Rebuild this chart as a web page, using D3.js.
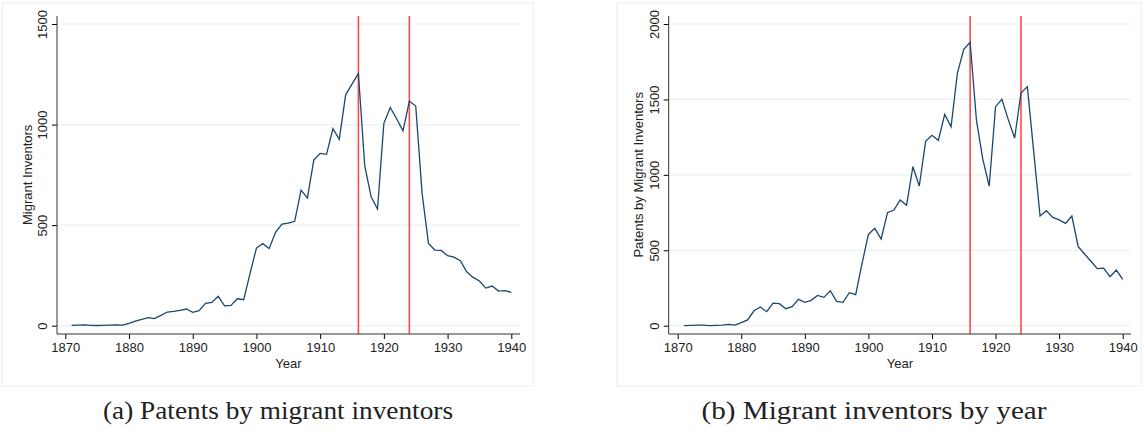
<!DOCTYPE html>
<html>
<head>
<meta charset="utf-8">
<script src="https://cdn.jsdelivr.net/npm/d3@7"></script>
<style>
  body { margin: 0; background: #fff; }
  svg text { font-family: "Liberation Sans", Arial, sans-serif; fill: #222; }
  .cap { font-family: "Liberation Serif", "DejaVu Serif", serif; }
</style>
</head>
<body>
<script>
// years 1871..1940
var years = d3.range(1871, 1941);

// (a) left panel: migrant inventors
var inventors = [2, 3, 4, 2, 1, 2, 3, 4, 3, 12,
  23, 31, 40, 35, 51, 68, 71, 76, 83, 66,
  75, 111, 116, 146, 99, 101, 134, 129, 260, 386,
  408, 384, 464, 505, 510, 519, 674, 635, 823, 857,
  852, 979, 926, 1148, 1201, 1253, 795, 641, 580, 1006,
  1085, 1029, 969, 1117, 1092, 658, 409, 376, 374, 348,
  341, 323, 268, 240, 222, 187, 197, 172, 174, 166];

// (b) right panel: patents by migrant inventors
var patents = [0, 2, 4, 4, 0, 2, 4, 9, 4, 20,
  38, 99, 124, 93, 150, 146, 113, 126, 175, 155,
  168, 201, 188, 232, 161, 155, 219, 206, 413, 605,
  645, 575, 749, 767, 833, 798, 1054, 926, 1222, 1262,
  1229, 1401, 1319, 1675, 1832, 1878, 1359, 1103, 926, 1452,
  1501, 1366, 1244, 1543, 1585, 1154, 727, 762, 718, 701,
  678, 727, 524, 475, 427, 378, 382, 325, 369, 307];

var xTicks = [1870, 1880, 1890, 1900, 1910, 1920, 1930, 1940];
var marks = [1916, 1924];
var captions = ["(a) Patents by migrant inventors", "(b) Migrant inventors by year"];

var svg = d3.select("body").append("svg")
  .attr("width", 1144).attr("height", 435);

function panel(cfg) {
  var g = svg.append("g");
  g.append("rect")
    .attr("x", cfg.box[0]).attr("y", 3)
    .attr("width", cfg.box[1] - cfg.box[0]).attr("height", 383)
    .attr("fill", "#fff").attr("stroke", "#e6eef1").attr("stroke-width", 1);

  var x = d3.scaleLinear().domain([1870, 1940]).range([cfg.x0, cfg.x1]);
  var y = d3.scaleLinear().domain([0, cfg.ymax]).range([325.7, 24]);
  var axL = cfg.axisX, axR = cfg.axisEnd, axB = 334;

  // gridlines
  g.selectAll(".grid").data(cfg.yTicks).join("line")
    .attr("x1", axL).attr("x2", axR)
    .attr("y1", d => y(d)).attr("y2", d => y(d))
    .attr("stroke", "#eaf2f3").attr("stroke-width", 1.2);

  // red lines
  g.selectAll(".mark").data(marks).join("line")
    .attr("x1", d => x(d)).attr("x2", d => x(d))
    .attr("y1", 16).attr("y2", axB)
    .attr("stroke", "#ff4a4a").attr("stroke-width", 1.6);

  // the series
  var line = d3.line().x((d, i) => x(years[i])).y(d => y(d));
  g.append("path").datum(cfg.values)
    .attr("d", line).attr("fill", "none")
    .attr("stroke", "#1a476f").attr("stroke-width", 1.3);

  // axes
  var xa = g.append("g").attr("transform", "translate(0," + axB + ")")
    .call(d3.axisBottom(x).tickValues(xTicks).tickFormat(d3.format("d")).tickSize(5).tickSizeOuter(0));
  xa.select(".domain").remove();
  xa.append("line").attr("x1", axL).attr("x2", axR).attr("stroke", "#333");
  xa.selectAll("text").attr("font-size", 13).attr("dy", "0.8em");

  var ya = g.append("g").attr("transform", "translate(" + axL + ",0)")
    .call(d3.axisLeft(y).tickValues(cfg.yTicks).tickFormat(d3.format("d")).tickSize(5).tickSizeOuter(0));
  ya.select(".domain").remove();
  ya.append("line").attr("y1", 16).attr("y2", axB).attr("stroke", "#333");
  ya.selectAll(".tick text")
    .attr("font-size", 13)
    .attr("text-anchor", "middle")
    .attr("x", null).attr("dy", null)
    .attr("transform", "translate(-10,0) rotate(-90)");

  g.append("text").attr("x", (axL + axR) / 2).attr("y", 368)
    .attr("text-anchor", "middle").attr("font-size", 13).text("Year");

  g.append("text")
    .attr("transform", "translate(" + cfg.labelX + "," + y(cfg.ymax / 2) + ") rotate(-90)")
    .attr("text-anchor", "middle").attr("font-size", 13).text(cfg.ylabel);

  svg.append("text").attr("class", "cap")
    .attr("x", cfg.capX).attr("y", 419)
    .attr("text-anchor", "middle").attr("font-size", 25)
    .attr("textLength", cfg.capW).attr("lengthAdjust", "spacingAndGlyphs")
    .text(cfg.caption);
}

panel({box: [2, 533], x0: 65.3, x1: 511.3, axisX: 57, axisEnd: 520, ymax: 1500,
  yTicks: [0, 500, 1000, 1500], values: inventors, ylabel: "Migrant Inventors",
  labelX: 32, capX: 278, capW: 350, caption: captions[0]});
panel({box: [617, 1141], x0: 677.7, x1: 1122.7, axisX: 668.7, axisEnd: 1131, ymax: 2000,
  yTicks: [0, 500, 1000, 1500, 2000], values: patents, ylabel: "Patents by Migrant Inventors",
  labelX: 643, capX: 874, capW: 345, caption: captions[1]});
</script>
</body>
</html>
